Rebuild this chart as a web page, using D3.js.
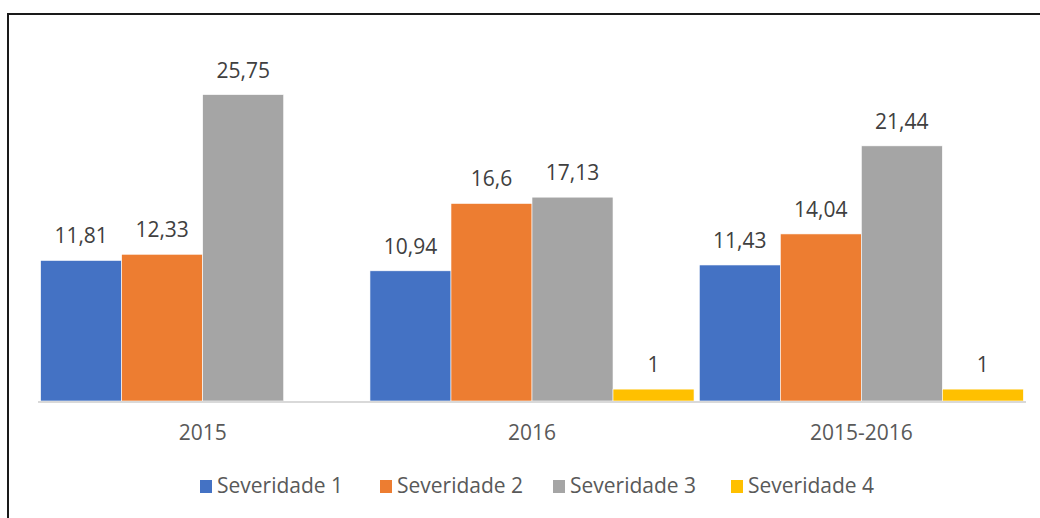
<!DOCTYPE html>
<html>
<head>
<meta charset="utf-8">
<script src="https://cdn.jsdelivr.net/npm/d3@7"></script>
<style>
	body { margin: 0; background: #fff; }
	svg { display: block; font-family: "Open Sans", sans-serif; }
</style>
</head>
<body>
<div id="chart"></div>
<script>
// categories and series
var categories = ["2015", "2016", "2015-2016"];
var seriesNames = ["Severidade 1", "Severidade 2", "Severidade 3", "Severidade 4"];
var sev1 = [11.81, 10.94, 11.43];
var sev2 = [12.33, 16.6, 14.04];
var sev3 = [25.75, 17.13, 21.44];
var sev4 = [null, 1, 1];
var seriesColors = ["#4472C4", "#ED7D31", "#A5A5A5", "#FFC000"];

var width = 1040, height = 518;

var svg = d3.select("#chart").append("svg")
	.attr("width", width)
	.attr("height", height);

// outer frame, runs off the right and bottom edges
svg.append("rect")
	.attr("x", 8)
	.attr("y", 14)
	.attr("width", 1100)
	.attr("height", 600)
	.attr("fill", "none")
	.attr("stroke", "#1a1a1a")
	.attr("stroke-width", 2);

var series = [sev1, sev2, sev3, sev4];
var rows = categories.map(function(c, i) {
	return {
		cat: c,
		vals: series.map(function(s, j) { return {key: seriesNames[j], value: s[i], idx: j}; })
	};
});

var x0 = d3.scaleBand()
	.domain(categories)
	.range([38, 1026])
	.paddingInner(0.016)
	.paddingOuter(0.008);

var x1 = d3.scaleBand()
	.domain(seriesNames)
	.range([0, x0.bandwidth()]);

var y = d3.scaleLinear()
	.domain([0, 30])
	.range([401, 44]);

var color = d3.scaleOrdinal()
	.domain(seriesNames)
	.range(seriesColors);

var groups = svg.append("g")
	.selectAll("g")
	.data(rows)
	.enter().append("g")
	.attr("transform", function(d) { return "translate(" + x0(d.cat) + ",0)"; });

var bars = groups.selectAll("g")
	.data(function(d) { return d.vals.filter(function(v) { return v.value != null; }); })
	.enter().append("g");

bars.append("rect")
	.attr("x", function(d) { return x1(d.key); })
	.attr("y", function(d) { return y(d.value); })
	.attr("width", x1.bandwidth())
	.attr("height", function(d) { return y(0) - y(d.value); })
	.attr("fill", function(d) { return color(d.key); })
	.attr("stroke", "#fff")
	.attr("stroke-width", 0.6);

bars.append("text")
	.attr("x", function(d) { return x1(d.key) + x1.bandwidth() / 2; })
	.attr("y", function(d) { return y(d.value) - 17; })
	.attr("text-anchor", "middle")
	.attr("font-size", 21)
	.attr("fill", "#404040")
	.text(function(d) { return String(d.value).replace(".", ","); });

// baseline
svg.append("line")
	.attr("x1", 38)
	.attr("x2", 1026)
	.attr("y1", y(0) + 1)
	.attr("y2", y(0) + 1)
	.attr("stroke", "#D9D9D9")
	.attr("stroke-width", 2);

// category labels
svg.append("g")
	.selectAll("text")
	.data(categories)
	.enter().append("text")
	.attr("x", function(d) { return x0(d) + x0.bandwidth() / 2; })
	.attr("y", 440)
	.attr("text-anchor", "middle")
	.attr("font-size", 21)
	.attr("fill", "#595959")
	.text(function(d) { return d; });

// legend
var legendX = [200, 380, 553, 731];
var legend = svg.append("g")
	.selectAll("g")
	.data(seriesNames)
	.enter().append("g")
	.attr("transform", function(d, i) { return "translate(" + legendX[i] + ",480)"; });

legend.append("rect")
	.attr("width", 12)
	.attr("height", 13)
	.attr("fill", function(d) { return color(d); });

legend.append("text")
	.attr("x", 17)
	.attr("y", 13)
	.attr("font-size", 21)
	.attr("fill", "#595959")
	.text(function(d) { return d; });
</script>
</body>
</html>
